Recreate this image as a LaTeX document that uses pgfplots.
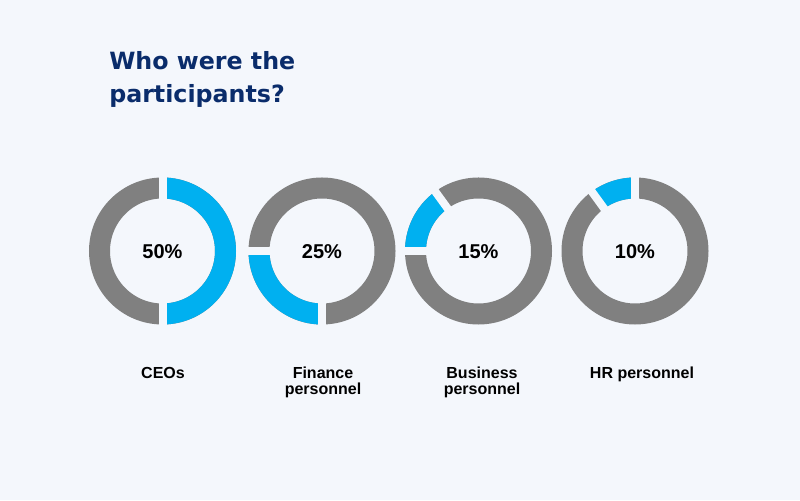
\documentclass[border=0pt]{standalone}
\usepackage{pgfplots}
\pgfplotsset{compat=1.18}
\usepackage{pgfplotstable}
\usepackage{fontspec}
\setmainfont{Liberation Sans}
\newfontfamily\titlefont{DejaVu Sans}
\definecolor{bg}{HTML}{F4F7FC}
\definecolor{navy}{HTML}{0A2C6B}
\definecolor{ring}{HTML}{808080}
\definecolor{cyanseg}{HTML}{00B0F0}

% cx, cy in pixel units (y measured from bottom); pct = share; start = clockwise angle from top where the cyan part starts
\pgfplotstableread{
cx    cy  pct start
162.5 249 50  0
322   249 25  180
478.5 249 15  270
635   249 10  324
}\donuts

\begin{document}
\begin{tikzpicture}
\begin{axis}[
  width=600pt, height=375pt, scale only axis,
  xmin=0, xmax=800, ymin=0, ymax=500,
  hide axis,
]
\fill[bg] (axis cs:0,0) rectangle (axis cs:800,500);
\pgfplotsforeachungrouped \i in {0,1,2,3}{%
  \pgfplotstablegetelem{\i}{cx}\of\donuts \let\cx\pgfplotsretval
  \pgfplotstablegetelem{\i}{cy}\of\donuts \let\cy\pgfplotsretval
  \pgfplotstablegetelem{\i}{pct}\of\donuts \let\pct\pgfplotsretval
  \pgfplotstablegetelem{\i}{start}\of\donuts \let\st\pgfplotsretval
  \pgfmathsetmacro\aone{90-\st}%
  \pgfmathsetmacro\atwo{90-\st-3.6*\pct}%
  \edef\temp{%
    \noexpand\draw[ring, line width=15.75pt] (axis cs:\cx,\cy) circle[radius=47.25pt];
    \noexpand\draw[cyanseg, line width=15.75pt] (axis cs:\cx,\cy) ++(\aone:47.25pt) arc[start angle=\aone, end angle=\atwo, radius=47.25pt];
    \noexpand\draw[bg, line width=6pt] (axis cs:\cx,\cy) ++(\aone:37pt) -- ++(\aone:20.5pt);
    \noexpand\draw[bg, line width=6pt] (axis cs:\cx,\cy) ++(\atwo:37pt) -- ++(\atwo:20.5pt);
    \noexpand\node[inner sep=0pt, anchor=base, font=\noexpand\bfseries\noexpand\fontsize{15}{18}\noexpand\selectfont] at (axis cs:\cx,241) {\pct\noexpand\%};
  }%
  \temp
}
% title
\node[inner sep=0pt, anchor=base west, text=navy, font=\titlefont\bfseries\fontsize{17.8}{22}\selectfont] at (axis cs:109,430) {Who were the};
\node[inner sep=0pt, anchor=base west, text=navy, font=\titlefont\bfseries\fontsize{17.8}{22}\selectfont] at (axis cs:109,397) {participants?};
% category labels
\node[inner sep=0pt, anchor=base, font=\bfseries\fontsize{12}{14}\selectfont] at (axis cs:163,121) {CEOs};
\node[inner sep=0pt, anchor=base, font=\bfseries\fontsize{12}{14}\selectfont] at (axis cs:323,121) {Finance};
\node[inner sep=0pt, anchor=base, font=\bfseries\fontsize{12}{14}\selectfont] at (axis cs:323,105) {personnel};
\node[inner sep=0pt, anchor=base, font=\bfseries\fontsize{12}{14}\selectfont] at (axis cs:482,121) {Business};
\node[inner sep=0pt, anchor=base, font=\bfseries\fontsize{12}{14}\selectfont] at (axis cs:482,105) {personnel};
\node[inner sep=0pt, anchor=base, font=\bfseries\fontsize{12}{14}\selectfont] at (axis cs:642,121) {HR personnel};
\end{axis}
\end{tikzpicture}
\end{document}
